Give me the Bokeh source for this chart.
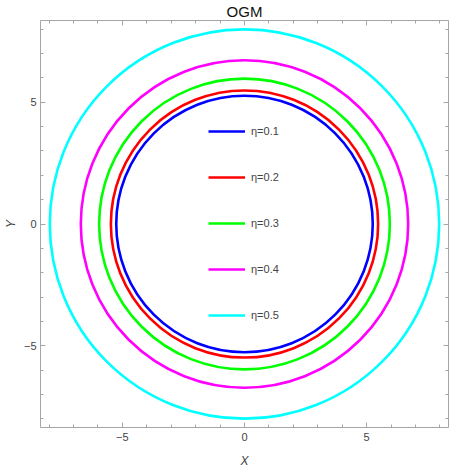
from bokeh.plotting import figure
from bokeh.models import (ColumnDataSource, Range1d, FixedTicker, LinearAxis,
                          Legend, LegendItem, CustomJSTickFormatter)
from bokeh.embed import file_html
from bokeh.resources import INLINE

# ---- data ----
eta = [0.1, 0.2, 0.3, 0.4, 0.5]
radii = [5.25, 5.47, 5.95, 6.70, 7.97]
colors = ["#0000FF", "#FF0000", "#00FF00", "#FF00FF", "#00FFFF"]
labels = ["η=0.1", "η=0.2", "η=0.3", "η=0.4", "η=0.5"]
major_ticks = [-5, 0, 5]
minor_ticks = [-8, -7, -6, -4, -3, -2, -1, 1, 2, 3, 4, 6, 7, 8]
tick_text = {-5: "−5", 0: "0", 5: "5"}
x_lim = (-8.35, 8.35)
y_lim = (-8.35, 8.35)

FONT = "Liberation Sans"
AXIS_COL = "#a6a6a6"
TEXT_COL = "#444444"

W, H = 449, 470
BL, BR, BT, BB = 39, 1, 19, 42

p = figure(width=W, height=H, output_backend="svg", toolbar_location=None,
           x_range=Range1d(*x_lim), y_range=Range1d(*y_lim),
           min_border_left=BL, min_border_right=BR, min_border_top=BT,
           min_border_bottom=BB, x_axis_location=None, y_axis_location=None,
           title="OGM")
p.grid.visible = False
p.outline_line_color = None
p.background_fill_color = "white"
p.border_fill_color = "white"
p.title.align = "center"
p.title.text_font = FONT
p.title.text_font_size = "15px"
p.title.text_font_style = "normal"
p.title.text_color = "#111111"
p.title.standoff = 1

def style_axis(ax, show_labels):
    ax.ticker = FixedTicker(ticks=major_ticks, minor_ticks=minor_ticks)
    ax.axis_line_color = AXIS_COL
    ax.axis_line_width = 1
    ax.major_tick_line_color = AXIS_COL
    ax.minor_tick_line_color = AXIS_COL
    ax.major_tick_in = 5
    ax.major_tick_out = 0
    ax.minor_tick_in = 3
    ax.minor_tick_out = 0
    if show_labels:
        ax.major_label_overrides = tick_text
        ax.major_label_text_font = FONT
        ax.major_label_text_font_size = "11px"
        ax.major_label_text_color = TEXT_COL
        ax.axis_label_text_font = FONT
        ax.axis_label_text_font_size = "12px"
        ax.axis_label_text_font_style = "italic"
        ax.axis_label_text_color = TEXT_COL
    else:
        ax.formatter = CustomJSTickFormatter(code="return ''")
        ax.major_label_standoff = 0
        ax.axis_label_standoff = 0

bottom = LinearAxis(axis_label="X")
style_axis(bottom, True)
bottom.major_label_standoff = 5
bottom.axis_label_standoff = 10
p.add_layout(bottom, "below")

left = LinearAxis(axis_label="Y")
style_axis(left, True)
left.major_label_standoff = 4
left.axis_label_standoff = 3
p.add_layout(left, "left")

top = LinearAxis()
style_axis(top, False)
p.add_layout(top, "above")
right = LinearAxis()
style_axis(right, False)
p.add_layout(right, "right")

src = ColumnDataSource(dict(x=[0] * len(radii), y=[0] * len(radii),
                            r=radii, c=colors))
p.circle(x="x", y="y", radius="r", source=src, fill_color=None,
         line_color="c", line_width=2.6)

nan = float("nan")
items = []
for lab, col in zip(labels, colors):
    r = p.line(x=[nan], y=[nan], line_color=col, line_width=2.6)
    items.append(LegendItem(label=lab, renderers=[r]))

legend = Legend(items=items, location=(168, 102), padding=0, margin=0,
                spacing=26, glyph_width=37, glyph_height=20, label_height=20,
                label_standoff=6, label_text_font=FONT,
                label_text_font_size="11px", label_text_color=TEXT_COL,
                border_line_color=None, background_fill_alpha=0)
p.add_layout(legend, "center")

open("out.html", "w").write(file_html(p, INLINE))
